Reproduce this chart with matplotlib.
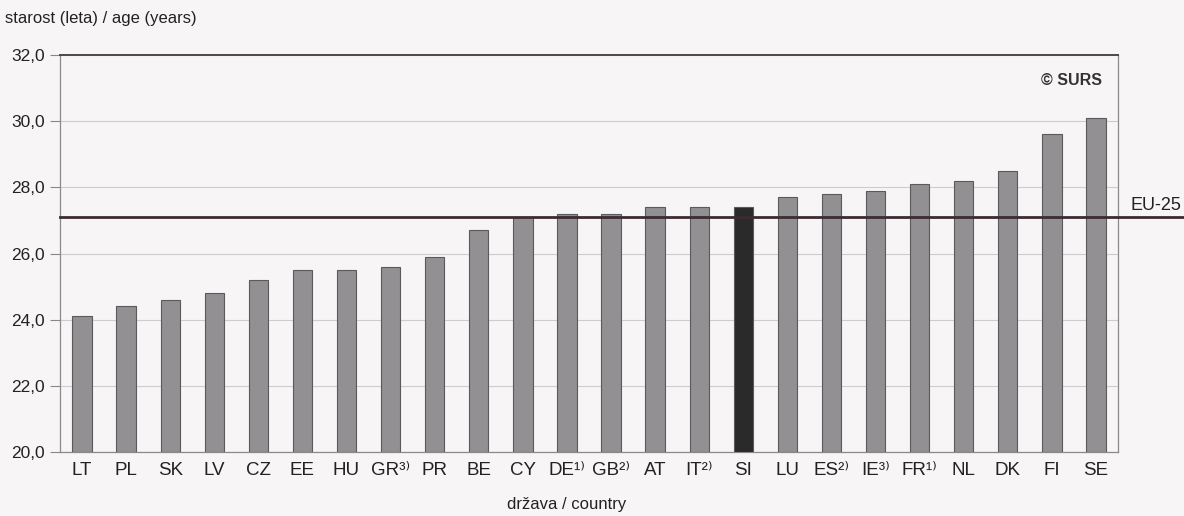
import matplotlib.pyplot as plt
import numpy as np

plt.rcParams['font.family'] = ['Liberation Sans', 'DejaVu Sans']

# mean age of mother at first birth, EU-25 countries
labels = ['LT', 'PL', 'SK', 'LV', 'CZ', 'EE', 'HU', 'GR³⁾', 'PR', 'BE', 'CY', 'DE¹⁾',
          'GB²⁾', 'AT', 'IT²⁾', 'SI', 'LU', 'ES²⁾', 'IE³⁾', 'FR¹⁾', 'NL', 'DK', 'FI', 'SE']
values = [24.1, 24.4, 24.6, 24.8, 25.2, 25.5, 25.5, 25.6, 25.9, 26.7, 27.1, 27.2,
          27.2, 27.4, 27.4, 27.4, 27.7, 27.8, 27.9, 28.1, 28.2, 28.5, 29.6, 30.1]
eu25 = 27.1
yticks = [20, 22, 24, 26, 28, 30, 32]

bg = '#f8f5f7'
fig = plt.figure(figsize=(11.84, 5.16), dpi=100, facecolor=bg)
ax = fig.add_axes([60 / 1184, 1 - 452 / 516, (1118 - 60) / 1184, (452 - 55) / 516])
ax.set_facecolor(bg)

x = np.arange(len(labels))
colors = ['#2a2a2a' if c == 'SI' else '#929092' for c in labels]
ax.bar(x, np.array(values) - 20, bottom=20, width=0.44, color=colors,
       edgecolor='#5a5a5a', linewidth=0.8, zorder=3)

ax.set_xlim(-0.5, len(labels) - 0.5)
ax.set_ylim(20, 32)
ax.set_yticks(yticks)
ax.set_yticklabels([f'{v:.1f}'.replace('.', ',') for v in yticks], fontsize=12.5, color='#222')
ax.set_xticks(x)
ax.set_xticklabels(labels, fontsize=13.5, color='#222')
ax.tick_params(axis='x', length=0, pad=7)
ax.tick_params(axis='y', length=7, color='#888', pad=4)

ax.grid(axis='y', color='#cfcbcf', linewidth=0.8, zorder=0)
for side in ['left', 'bottom', 'right']:
    ax.spines[side].set_color('#8a8a8a')
    ax.spines[side].set_linewidth(0.9)
ax.spines['top'].set_color('#4a4a4a')
ax.spines['top'].set_linewidth(1.4)

# EU-25 average line, running on to the right edge of the figure
ax.axhline(eu25, xmin=0, xmax=(1184 - 60) / (1118 - 60), color='#3a2c32',
           linewidth=2, zorder=4, clip_on=False)
fig.text(1131 / 1184, 1 - 205 / 516, 'EU-25', fontsize=13, color='#222', va='center', ha='left')

ax.text(0.985, 0.935, '© SURS', transform=ax.transAxes, fontsize=11.5, fontweight='bold',
        color='#333', ha='right', va='center')

fig.text(5 / 1184, 1 - 18 / 516, 'starost (leta) / age (years)', fontsize=12,
         color='#222', va='center', ha='left')
fig.text(567 / 1184, 1 - 505 / 516, 'država / country', fontsize=12,
         color='#222', va='center', ha='center')

fig.savefig('out.png', dpi=100, facecolor=bg)
